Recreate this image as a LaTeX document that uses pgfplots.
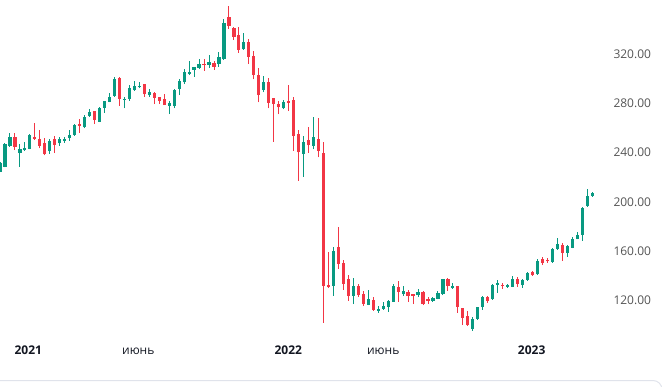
\documentclass[border=0pt]{standalone}
\usepackage{fontspec}
\setmainfont{Open Sans}
\usepackage{pgfplots}
\pgfplotsset{compat=1.18}
\usepackage{pgfplotstable}
\definecolor{upc}{HTML}{089981}
\definecolor{dnc}{HTML}{F23645}
\definecolor{ylab}{HTML}{555555}
\definecolor{xlab}{HTML}{131722}
\definecolor{framec}{HTML}{E0E3EB}

\pgfplotstableread{
x o h l c
0 224.5 232 224 231.3
1 228.5 247.5 228 246.9
2 245.3 255.6 244.7 252.8
4 239.4 246.7 228.5 242.6
5 242 248.8 241.5 243.9
6 242.9 255 242.5 254.2
10 241.2 250.7 238.8 249.1
12 247.5 252.8 245.3 250.7
13 249.3 252.8 248 250.7
14 251.8 258.2 249.6 254.2
15 254.2 263.1 253.4 262.3
17 260.4 270.4 259.6 268.8
18 269.6 275.5 269 272.6
20 265 276.6 264.7 275.8
21 276.3 282 272.3 281.7
22 280.9 288 280.7 284.7
23 286 301.4 285.2 299.6
25 282.6 285.2 275.8 283.6
26 283.4 294.7 282 292
27 290.7 298 290.1 293.9
28 292.9 297.4 292 293.9
30 286.6 291.2 285.2 289
34 277.9 281.7 271.2 279.9
35 277.7 291.7 275.8 290.7
36 291.5 299.6 286.6 297.7
37 296.9 307.4 295.5 305.3
38 303.9 314.2 302.8 305.3
39 306.9 309.5 301.4 309.1
40 308.5 315.5 308 311.5
42 310.9 319 308.5 313.1
44 311.7 321.5 309.5 317.2
45 315.5 348 315 345.2
49 323.6 336.9 323.1 329.3
53 290.7 302 288.8 296.9
57 275.8 282.6 275 280.7
61 238.6 253.4 220.4 248.3
63 245.3 268.8 242.6 252.6
67 132.1 163.7 124 160.2
71 124 138.6 117.2 131.8
74 116.7 128.6 116.2 121.3
76 111.8 115.6 110.2 113.2
77 113.2 119.1 112.4 115.6
78 115 120.5 111 119.9
79 119.1 133.4 118.9 131.8
81 125.3 131.8 123.7 127.8
84 124.5 129.4 122.7 127
87 119.9 122.9 118.9 122.3
88 121.3 127.8 121 125.9
89 125.3 137.7 124.5 137.5
91 130 134.5 129.4 131.8
95 97 106.5 95.6 105.1
96 105.1 115 104.3 114.8
97 114.6 123.7 112.4 123.2
99 121.3 133.4 120.5 132.6
100 132.9 136.7 126.4 134
102 131.3 133.4 130.4 132.6
103 131.3 139.9 131 137.5
105 132.6 137.7 130.4 136.7
106 136.7 142.9 136.1 142.1
108 141.3 153.5 141 152.3
111 151.3 162.4 150.7 161.8
112 161.6 171 161 165.9
114 158.8 165.1 155.6 164.3
115 162.9 171.3 162.4 169.9
116 169.9 175.3 169.7 173.2
117 173.2 195.6 168.5 194.8
118 196.9 210.2 196.1 205
119 204.8 207.8 204.2 207
}\greentab

\pgfplotstableread{
x o h l c
3 252.8 255.6 242 244.7
7 252.6 263.7 250.1 251.2
8 250.7 258.2 243.4 245.3
9 248 252 237.7 238.6
11 250.7 253.4 239.4 246.1
16 263.1 267.2 256.1 261.5
19 273.4 273.6 263.1 266.4
24 300.4 301 277.7 283.6
29 295.3 295.5 285.2 287.2
31 288 288.8 279.3 284.4
32 284.7 285.2 279.3 282
33 283.4 287.2 278.3 278.5
41 312 315.8 306.3 310.9
43 312.8 314.2 306.9 309.5
46 350.1 358.7 340.1 342.8
47 340.9 341.5 331.2 333.9
48 335.2 341.5 320.9 323.1
50 329.3 332 311.7 317.6
51 318.2 322.3 299.3 302.8
52 302.6 308.2 280.7 286.6
54 296.9 300.1 275.8 280.4
55 283.9 284.2 248.8 279.3
56 279.1 281.7 271 276.6
58 281.7 294.7 273.6 280.4
59 282.6 284.7 241.5 253.4
60 254.8 258 217.2 240.2
62 249.9 260.7 239.9 245.8
64 250.7 267.7 236.1 241.2
65 239.4 248.3 102.1 132.1
66 132.6 159.6 130 131.3
68 163.4 179.4 145.6 149.9
69 150.2 152.9 128.6 133.4
70 137.5 140.7 119.9 123.7
72 131.8 133.4 123.2 124.5
73 125.3 127.8 115.6 117.2
75 120.5 123.2 111.8 112.4
80 131 135.9 118.9 127
82 127 128.6 118.9 123.7
83 125.3 125.5 117.2 124
85 127.2 127.5 116.4 117.2
86 121 122.7 117.2 119.9
90 137.5 138.6 128 131.8
92 131.8 132.2 110.2 114.8
93 114 114.3 100.2 106.1
94 107.5 111.8 99.6 100.2
98 123.2 124 118.3 119.9
101 132.6 134.5 129.4 131.8
104 137.5 138.9 131.3 133.4
107 143.4 144.2 140.2 140.7
109 153.5 155.1 148.8 150.7
110 152.9 154.3 150.7 151.8
113 165.1 166.9 152.3 158.8
}\redtab

\begin{document}
\begin{tikzpicture}[x=1pt,y=1pt]
\path[use as bounding box] (0,-51) rectangle (670,335);
\draw[framec, line width=1pt, rounded corners=9pt] (-10,-70) -- (-10,-45.5) -- (662,-45.5) -- (662,-70);
\begin{axis}[at={(0,0)}, anchor=south west, scale only axis,
  width=600pt, height=335pt,
  xmin=0, xmax=120.56, ymin=92.1, ymax=363.6,
  axis line style={draw=none}, major tick length=0pt, tick style={draw=none},
  ytick={120,160,200,240,280,320},
  yticklabels={120.00,160.00,200.00,240.00,280.00,320.00},
  yticklabel pos=right,
  yticklabel style={anchor=west, inner sep=0pt, xshift=13.3pt, font=\fontsize{12}{14}\selectfont, text=ylab},
  xtick={5.69,27.79,57.93,77.01,106.83},
  xticklabels={\textbf{2021},июнь,\textbf{2022},июнь,\textbf{2023}},
  xticklabel style={anchor=base, inner sep=0pt, yshift=-19pt, font=\fontsize{12}{14}\selectfont, text=xlab},
  clip=true]
\addplot[draw=none, mark=none, forget plot,
  error bars/.cd, y dir=plus, y explicit, error mark=none,
  error bar style={line width=1pt, draw=upc}]
  table[x=x, y=l, y error expr=\thisrow{h}-\thisrow{l}] {\greentab};
\addplot[draw=none, mark=none, forget plot,
  error bars/.cd, y dir=plus, y explicit, error mark=none,
  error bar style={line width=3.2pt, draw=upc}]
  table[x=x, y=o, y error expr=\thisrow{c}-\thisrow{o}] {\greentab};
\addplot[draw=none, mark=none, forget plot,
  error bars/.cd, y dir=plus, y explicit, error mark=none,
  error bar style={line width=1pt, draw=dnc}]
  table[x=x, y=l, y error expr=\thisrow{h}-\thisrow{l}] {\redtab};
\addplot[draw=none, mark=none, forget plot,
  error bars/.cd, y dir=plus, y explicit, error mark=none,
  error bar style={line width=3.2pt, draw=dnc}]
  table[x=x, y=c, y error expr=\thisrow{o}-\thisrow{c}] {\redtab};
\end{axis}
\end{tikzpicture}
\end{document}
